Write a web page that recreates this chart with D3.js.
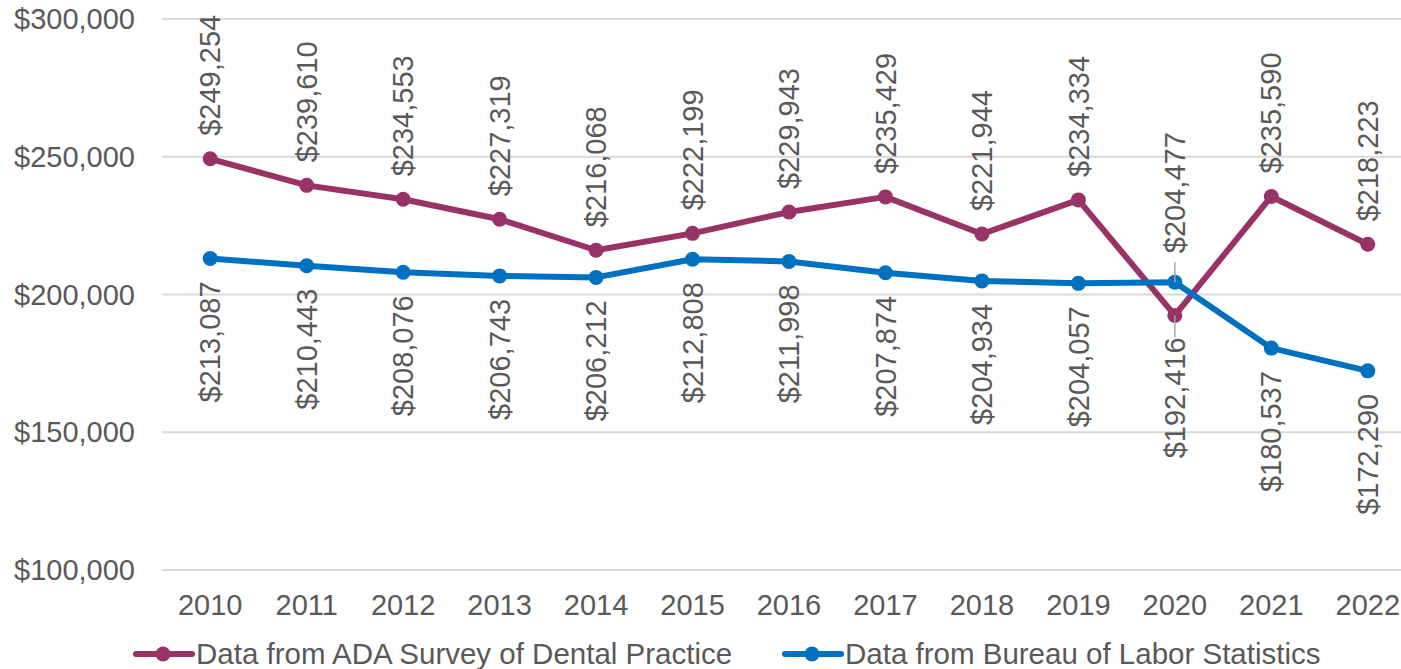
<!doctype html>
<html>
<head>
    <title>Dentist income</title>
    <script src='https://d3js.org/d3.v7.min.js'></script>
    <style>
        body { margin: 0; background: #fff; }
        text { font-family: Arial, "Liberation Sans", sans-serif; fill: #595959; }
    </style>
</head>
<body>
<svg width="1401" height="669"></svg>
<script>
    // chart data
    var years = ["2010","2011","2012","2013","2014","2015","2016","2017","2018","2019","2020","2021","2022"];
    var adaValues = [249254, 239610, 234553, 227319, 216068, 222199, 229943, 235429, 221944, 234334, 192416, 235590, 218223];
    var blsValues = [213087, 210443, 208076, 206743, 206212, 212808, 211998, 207874, 204934, 204057, 204477, 180537, 172290];
    var yTicks = [100000, 150000, 200000, 250000, 300000];
    var seriesNames = ["Data from ADA Survey of Dental Practice", "Data from Bureau of Labor Statistics"];
    // which side of the point each data label sits on
    var adaLabelSide = ["up","up","up","up","up","up","up","up","up","up","down","up","up"];
    var blsLabelSide = ["down","down","down","down","down","down","down","down","down","down","up","down","down"];

    var svg = d3.select("svg");
    var fontSize = 29;

    var xScale = d3.scalePoint().domain(years).range([162, 1416]).padding(0.5);
    var yScale = d3.scaleLinear().domain([100000, 300000]).range([570, 19]);
    var money = d3.format("$,");

    // gridlines
    svg.append("g").selectAll("line")
        .data(yTicks)
        .enter().append("line")
        .attr("x1", 162).attr("x2", 1401)
        .attr("y1", function(d) { return yScale(d); })
        .attr("y2", function(d) { return yScale(d); })
        .attr("stroke", "#d9d9d9")
        .attr("stroke-width", 2);

    // y axis labels
    svg.append("g").selectAll("text")
        .data(yTicks)
        .enter().append("text")
        .attr("x", 135)
        .attr("y", function(d) { return yScale(d); })
        .attr("dy", "0.35em")
        .attr("text-anchor", "end")
        .style("font-size", fontSize + "px")
        .text(function(d) { return money(d); });

    // x axis labels
    svg.append("g").selectAll("text")
        .data(years)
        .enter().append("text")
        .attr("x", function(d) { return xScale(d); })
        .attr("y", 615)
        .attr("text-anchor", "middle")
        .style("font-size", fontSize + "px")
        .text(function(d) { return d; });

    var series = [
        { name: seriesNames[0], values: adaValues, sides: adaLabelSide, color: "#993366" },
        { name: seriesNames[1], values: blsValues, sides: blsLabelSide, color: "#0070c0" }
    ];

    var line = d3.line()
        .x(function(d, i) { return xScale(years[i]); })
        .y(function(d) { return yScale(d); });

    series.forEach(function(s) {
        var g = svg.append("g");

        g.append("path")
            .datum(s.values)
            .attr("d", line)
            .attr("fill", "none")
            .attr("stroke", s.color)
            .attr("stroke-width", 6)
            .attr("stroke-linejoin", "round");

        g.selectAll("circle")
            .data(s.values)
            .enter().append("circle")
            .attr("cx", function(d, i) { return xScale(years[i]); })
            .attr("cy", function(d) { return yScale(d); })
            .attr("r", 7.5)
            .attr("fill", s.color);
    });

    // data labels (drawn after lines so leader lines sit on top)
    series.forEach(function(s, k) {
        var g = svg.append("g");
        s.values.forEach(function(v, i) {
            var x = xScale(years[i]);
            var y = yScale(v);
            var up = s.sides[i] === "up";
            // labels moved off their default side get a leader line
            var moved = (k === 0 && !up) || (k === 1 && up);
            var off = moved ? (up ? 29 : 22) : 23;
            var ly = up ? y - off : y + off;

            if (moved) {
                g.append("line")
                    .attr("x1", x).attr("x2", x)
                    .attr("y1", y).attr("y2", up ? y - 20 : y + 22)
                    .attr("stroke", "#a6a6a6")
                    .attr("stroke-width", 1.5);
            }

            g.append("text")
                .attr("transform", "translate(" + x + "," + ly + ") rotate(-90)")
                .attr("dy", "0.35em")
                .attr("text-anchor", up ? "start" : "end")
                .style("font-size", fontSize + "px")
                .text(money(v));
        });
    });

    // legend
    var legendX = [136, 785];
    var legend = svg.append("g");
    series.forEach(function(s, k) {
        var lx = legendX[k];
        legend.append("line")
            .attr("x1", lx).attr("x2", lx + 56)
            .attr("y1", 654).attr("y2", 654)
            .attr("stroke", s.color)
            .attr("stroke-width", 6)
            .attr("stroke-linecap", "round");
        legend.append("circle")
            .attr("cx", lx + 27).attr("cy", 654)
            .attr("r", 7.5)
            .attr("fill", s.color);
        legend.append("text")
            .attr("x", lx + 60)
            .attr("y", 664)
            .style("font-size", "29.5px")
            .text(s.name);
    });
</script>
</body>
</html>
